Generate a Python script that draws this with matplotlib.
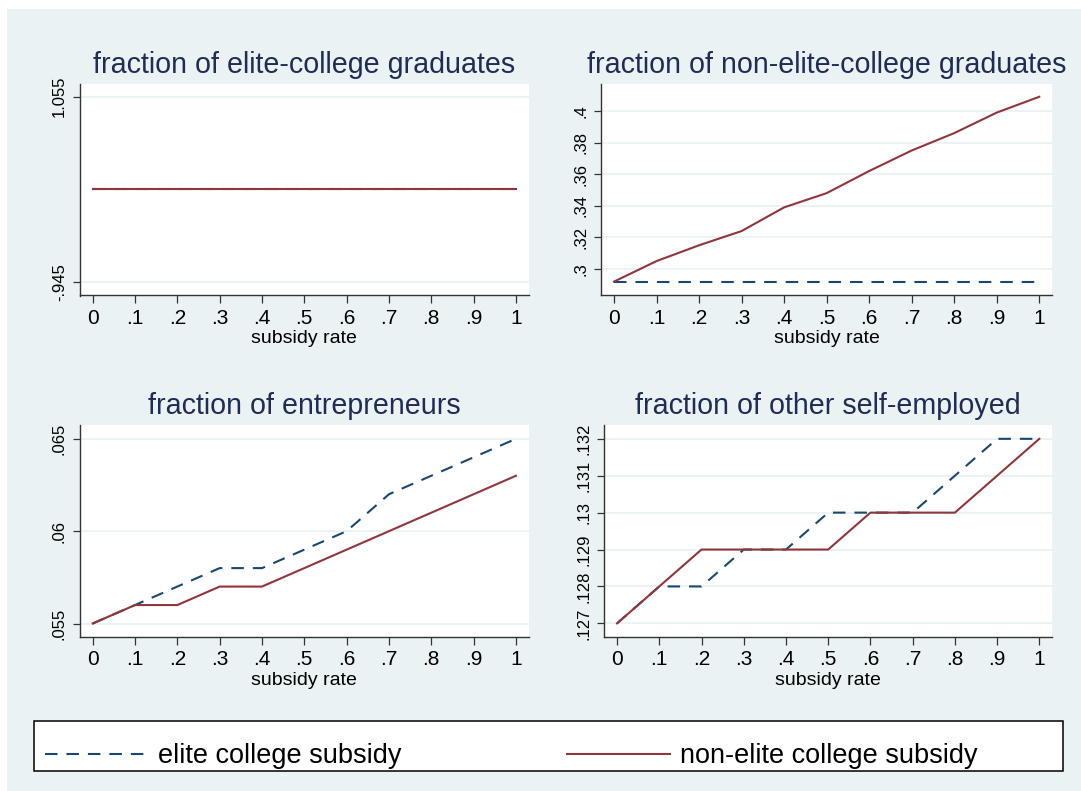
# -*- coding: utf-8 -*-

"""
Effects of college subsidies on occupational and educational fractions.
"""

import matplotlib

matplotlib.use("Agg")

import matplotlib.pyplot as plt
from matplotlib.lines import Line2D
from matplotlib.patches import Rectangle

plt.rcParams["font.family"] = ["Liberation Sans", "DejaVu Sans"]

# --- data -----------------------------------------------------------------
subsidy_rate = [0.0, 0.1, 0.2, 0.3, 0.4, 0.5, 0.6, 0.7, 0.8, 0.9, 1.0]

elite_grads_elite = [0.055, 0.055, 0.055, 0.055, 0.055, 0.055,
                     0.055, 0.055, 0.055, 0.055, 0.055]
elite_grads_nonelite = [0.055, 0.055, 0.055, 0.055, 0.055, 0.055,
                        0.055, 0.055, 0.055, 0.055, 0.055]

nonelite_grads_elite = [0.292, 0.292, 0.292, 0.292, 0.292, 0.292,
                        0.292, 0.292, 0.292, 0.292, 0.292]
nonelite_grads_nonelite = [0.292, 0.305, 0.315, 0.324, 0.339, 0.348,
                           0.362, 0.375, 0.386, 0.399, 0.409]

entrepreneurs_elite = [0.055, 0.056, 0.057, 0.058, 0.058, 0.059,
                       0.060, 0.062, 0.063, 0.064, 0.065]
entrepreneurs_nonelite = [0.055, 0.056, 0.056, 0.057, 0.057, 0.058,
                          0.059, 0.060, 0.061, 0.062, 0.063]

other_self_elite = [0.127, 0.128, 0.128, 0.129, 0.129, 0.130,
                    0.130, 0.130, 0.131, 0.132, 0.132]
other_self_nonelite = [0.127, 0.128, 0.129, 0.129, 0.129, 0.129,
                       0.130, 0.130, 0.130, 0.131, 0.132]

panel_titles = [
    "fraction of elite-college graduates",
    "fraction of non-elite-college graduates",
    "fraction of entrepreneurs",
    "fraction of other self-employed",
]

y_ticks = [
    [-0.945, 1.055],
    [0.30, 0.32, 0.34, 0.36, 0.38, 0.40],
    [0.055, 0.060, 0.065],
    [0.127, 0.128, 0.129, 0.130, 0.131, 0.132],
]

x_ticks = [0.0, 0.1, 0.2, 0.3, 0.4, 0.5, 0.6, 0.7, 0.8, 0.9, 1.0]

legend_labels = ["elite college subsidy", "non-elite college subsidy"]

# --- style ----------------------------------------------------------------
W, H = 1081, 791
BG = "#eaf2f3"
NAVY = "#1a476f"
MAROON = "#90353b"
TITLE_COLOR = "#1e2c56"
DASH = (0, (6, 4.3))


def stata_label(value: float) -> str:
    """Format a tick value the way Stata does (no leading zero)."""

    text = f"{value:g}"
    if text.startswith("0."):
        text = text[1:]
    elif text.startswith("-0."):
        text = "-" + text[2:]
    return text


def px_box(left, top, right, bottom):
    """Convert a pixel box into figure coordinates."""

    return [
        left / W,
        1 - bottom / H,
        (right - left) / W,
        (bottom - top) / H,
    ]


fig = plt.figure(figsize=(W / 100, H / 100), dpi=100)
fig.patch.set_facecolor("white")
fig.add_artist(
    Rectangle(
        (7 / W, 0),
        1 - 7 / W,
        1 - 9 / H,
        transform=fig.transFigure,
        facecolor=BG,
        edgecolor="none",
        zorder=0,
    )
)

panel_boxes = [
    px_box(80, 84, 528.6, 295.5),
    px_box(601.3, 84, 1052, 295.5),
    px_box(80, 424.8, 528.6, 637),
    px_box(604.4, 424.8, 1052, 637),
]

y_limits = [
    (-1.093, 1.190),
    (0.2832, 0.4171),
    (0.05427, 0.06576),
    (0.12663, 0.13238),
]

series = [
    (elite_grads_elite, elite_grads_nonelite),
    (nonelite_grads_elite, nonelite_grads_nonelite),
    (entrepreneurs_elite, entrepreneurs_nonelite),
    (other_self_elite, other_self_nonelite),
]

for box, title, ticks, limits, (elite, nonelite) in zip(
    panel_boxes, panel_titles, y_ticks, y_limits, series
):
    ax = fig.add_axes(box)
    ax.set_facecolor("white")

    for tick in ticks:
        ax.axhline(tick, color=BG, linewidth=1.3, zorder=1)

    ax.plot(
        subsidy_rate,
        elite,
        color=NAVY,
        linewidth=1.5,
        linestyle=DASH,
        zorder=3,
    )
    ax.plot(
        subsidy_rate,
        nonelite,
        color=MAROON,
        linewidth=1.5,
        zorder=4,
    )

    ax.set_xlim(-0.03, 1.03)
    ax.set_ylim(*limits)

    ax.set_xticks(x_ticks)
    ax.set_xticklabels([stata_label(v) for v in x_ticks], fontsize=15)
    ax.set_yticks(ticks)
    ax.set_yticklabels(
        [stata_label(v) for v in ticks],
        fontsize=12,
        rotation=90,
        va="center",
    )

    ax.tick_params(
        direction="out",
        length=5.4,
        width=0.9,
        color="#333333",
        pad=4,
    )

    for side in ["top", "right"]:
        ax.spines[side].set_visible(False)
    for side in ["left", "bottom"]:
        ax.spines[side].set_color("#333333")
        ax.spines[side].set_linewidth(1.0)

    ax.set_xlabel("subsidy rate", fontsize=14, labelpad=2)
    ax.set_title(title, fontsize=20.6, color=TITLE_COLOR, pad=8)

# legend box
fig.add_artist(
    Rectangle(
        (34.4 / W, 1 - 771 / H),
        (1063 - 34.4) / W,
        (771 - 720.5) / H,
        transform=fig.transFigure,
        facecolor="white",
        edgecolor="black",
        linewidth=1.1,
        zorder=2,
    )
)

handles = [
    Line2D([], [], color=NAVY, linewidth=1.5, linestyle=DASH),
    Line2D([], [], color=MAROON, linewidth=1.5),
]

fig.legend(
    handles,
    legend_labels,
    loc="center left",
    bbox_to_anchor=(45 / W, 1 - 756 / H),
    ncol=2,
    frameon=False,
    fontsize=19.5,
    borderpad=0,
    borderaxespad=0,
    handlelength=3.8,
    handletextpad=0.38,
    columnspacing=6.1,
)

fig.savefig("out.png", dpi=100, facecolor=fig.get_facecolor())
plt.close(fig)
